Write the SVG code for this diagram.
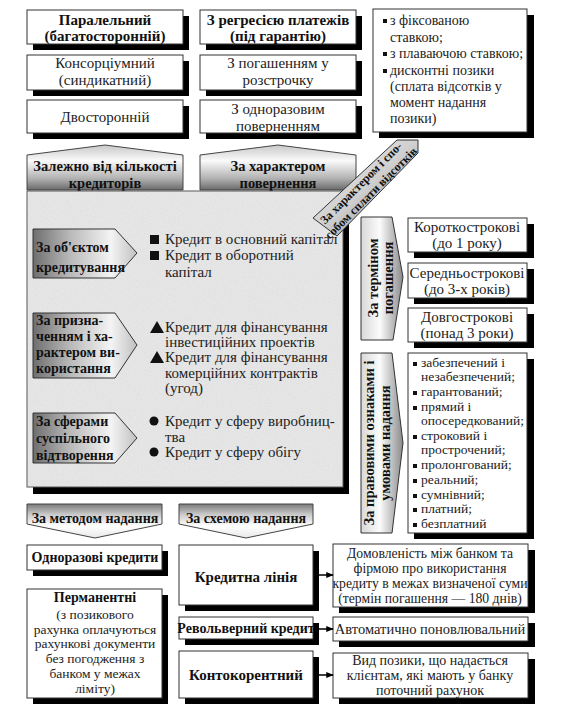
<svg xmlns="http://www.w3.org/2000/svg" width="576" height="712" viewBox="0 0 576 712">
<defs>
<style>
text{font-family:'Liberation Serif','DejaVu Serif',serif;font-size:14.5px;fill:#222}
.b{font-weight:bold;fill:#111}
.c{text-anchor:middle}
.s13{font-size:13.5px}
.s14{font-size:14px}
.s15{font-size:15px}
.box{fill:#fff;stroke:#333;stroke-width:1}
.sh{fill:#000}
.con{stroke:#000;stroke-width:1.5;fill:none;marker-end:url(#ah)}
</style>
<linearGradient id="gUp" x1="0" y1="0" x2="0" y2="1">
<stop offset="0" stop-color="#c8c8c8"/><stop offset="0.35" stop-color="#fafafa"/><stop offset="0.75" stop-color="#b0b0b0"/><stop offset="1" stop-color="#6a6a6a"/>
</linearGradient>
<linearGradient id="gDown" x1="0" y1="0" x2="0" y2="1">
<stop offset="0" stop-color="#7a7a7a"/><stop offset="0.3" stop-color="#c8c8c8"/><stop offset="0.65" stop-color="#ffffff"/><stop offset="1" stop-color="#e8e8e8"/>
</linearGradient>
<linearGradient id="gRight" x1="0" y1="0" x2="1" y2="0">
<stop offset="0" stop-color="#6e6e6e"/><stop offset="0.35" stop-color="#b8b8b8"/><stop offset="0.75" stop-color="#f4f4f4"/><stop offset="1" stop-color="#c0c0c0"/>
</linearGradient>
<linearGradient id="gVert" x1="0" y1="0" x2="1" y2="0">
<stop offset="0" stop-color="#d8d8d8"/><stop offset="0.45" stop-color="#fbfbfb"/><stop offset="1" stop-color="#8a8a8a"/>
</linearGradient>
<linearGradient id="gBand" x1="0" y1="0" x2="1" y2="1">
<stop offset="0" stop-color="#f0f0f0"/><stop offset="0.5" stop-color="#d0d0d0"/><stop offset="1" stop-color="#707070"/>
</linearGradient>
<filter id="noise" x="0" y="0" width="100%" height="100%">
<feTurbulence type="fractalNoise" baseFrequency="0.85" numOctaves="2" seed="3" result="t"/>
<feColorMatrix in="t" type="matrix" values="0 0 0 0 0.55  0 0 0 0 0.55  0 0 0 0 0.55  1.2 0 0 0 -0.5" result="m"/>
<feComposite in="m" in2="SourceGraphic" operator="in"/>
</filter>
<marker id="ah" viewBox="0 0 10 10" refX="9" refY="5" markerWidth="5" markerHeight="5" orient="auto">
<path d="M0,1 L10,5 L0,9 Z" fill="#000"/>
</marker>
</defs>
<rect width="576" height="712" fill="#fff"/>

<!-- top left column -->
<g id="n_paralel"><rect class="sh" x="33" y="16" width="156" height="34"/><rect class="box" x="27" y="10" width="156" height="34"/>
<text class="b c s15" x="105" y="25">Паралельний</text><text class="b c s15" x="105" y="41">(багатосторонній)</text></g>
<g id="n_konsorc"><rect class="sh" x="33" y="61" width="156" height="35"/><rect class="box" x="27" y="55" width="156" height="35"/>
<text class="c s15" x="105" y="68">Консорціумний</text><text class="c s15" x="105" y="85">(синдикатний)</text></g>
<g id="n_dvostor"><rect class="sh" x="33" y="106" width="156" height="33"/><rect class="box" x="27" y="100" width="156" height="33"/>
<text class="c s15" x="105" y="122">Двосторонній</text></g>

<!-- top middle column -->
<g id="n_regres"><rect class="sh" x="206" y="16" width="156" height="34"/><rect class="box" x="200" y="10" width="156" height="34"/>
<text class="b c s15" x="278" y="25">З регресією платежів</text><text class="b c s15" x="278" y="41">(під гарантію)</text></g>
<g id="n_rozstr"><rect class="sh" x="206" y="61" width="156" height="35"/><rect class="box" x="200" y="55" width="156" height="35"/>
<text class="c s15" x="278" y="68">З погашенням у</text><text class="c s15" x="278" y="85">розстрочку</text></g>
<g id="n_odnoraz"><rect class="sh" x="206" y="106" width="156" height="33"/><rect class="box" x="200" y="100" width="156" height="33"/>
<text class="c s15" x="278" y="114">З одноразовим</text><text class="c s15" x="278" y="131">поверненням</text></g>

<!-- top right box -->
<g id="n_stavka"><rect class="sh" x="379" y="15" width="155" height="123"/><rect class="box" x="373" y="9" width="154" height="123"/>
<rect x="383" y="19" width="4" height="4" fill="#111"/><text class="s14" x="390" y="25">з фіксованою</text>
<text class="s14" x="390" y="42">ставкою;</text>
<rect x="383" y="52" width="4" height="4" fill="#111"/><text class="s14" x="390" y="58">з плаваючою ставкою;</text>
<rect x="383" y="69" width="4" height="4" fill="#111"/><text class="s14" x="390" y="75">дисконтні позики</text>
<text class="s14" x="390" y="91">(сплата відсотків у</text>
<text class="s14" x="390" y="107">момент надання</text>
<text class="s14" x="390" y="123">позики)</text></g>

<!-- up arrows -->
<g id="n_kilkist"><path d="M27,190 L27,155 L105,145 L183,155 L183,190 Z" fill="url(#gUp)" stroke="#444"/>
<text class="b c" x="105" y="171">Залежно від кількості</text><text class="b c" x="105" y="188">кредиторів</text></g>
<g id="n_povern"><path d="M200,190 L200,155 L278,145 L356,155 L356,190 Z" fill="url(#gUp)" stroke="#444"/>
<text class="b c" x="278" y="171">За характером</text><text class="b c" x="278" y="188">повернення</text></g>

<!-- big panel -->
<g id="n_panel">
<rect class="sh" x="33" y="197" width="316" height="297"/>
<rect x="27" y="191" width="316" height="296" fill="#e6e6e6" stroke="#555"/>
<rect x="27" y="191" width="316" height="296" fill="#e6e6e6" filter="url(#noise)" opacity="0.4"/>
</g>

<!-- diagonal band -->
<g id="n_vidsotky"><path d="M313,218 L397,140 L418,140 L418,153 L337,236 Z" fill="url(#gBand)" stroke="#333"/>
<g transform="translate(366,188) rotate(-45)"><text class="b c" x="0" y="-3" style="font-size:12px">За характером і спо-</text><text class="b c" x="0" y="11" style="font-size:12px">собом сплати відсотків</text></g></g>

<!-- left pentagons inside panel -->
<g id="n_obekt"><path d="M33,229 L115,229 L137,253 L115,278 L33,278 Z" fill="url(#gRight)" stroke="#333"/>
<text class="b s14" x="36" y="252">За об'єктом</text><text class="b s14" x="36" y="272">кредитування</text></g>
<g id="n_pryzn"><path d="M33,313 L115,313 L137,345 L115,378 L33,378 Z" fill="url(#gRight)" stroke="#333"/>
<text class="b s14" x="36" y="325">За призна-</text><text class="b s14" x="36" y="341">ченням і ха-</text><text class="b s14" x="36" y="357">рактером ви-</text><text class="b s14" x="36" y="373">користання</text></g>
<g id="n_sfery"><path d="M33,413 L115,413 L137,438 L115,463 L33,463 Z" fill="url(#gRight)" stroke="#333"/>
<text class="b s14" x="36" y="426">За сферами</text><text class="b s14" x="36" y="443">суспільного</text><text class="b s14" x="36" y="460">відтворення</text></g>

<!-- panel bullets -->
<g id="n_obekt_items">
<rect x="150" y="235" width="9" height="9" fill="#111"/><text class="s15" x="165" y="244">Кредит в основний капітал</text>
<rect x="150" y="251" width="9" height="9" fill="#111"/><text class="s15" x="165" y="260">Кредит в оборотний</text>
<text class="s15" x="165" y="277">капітал</text></g>
<g id="n_pryzn_items">
<path d="M150,333 L157,321 L164,333 Z" fill="#111"/><text class="s15" x="165" y="332">Кредит для фінансування</text>
<text class="s15" x="165" y="347">інвестиційних проектів</text>
<path d="M150,363 L157,351 L164,363 Z" fill="#111"/><text class="s15" x="165" y="362">Кредит для фінансування</text>
<text class="s15" x="165" y="378">комерційних контрактів</text>
<text class="s15" x="165" y="393">(угод)</text></g>
<g id="n_sfery_items">
<circle cx="154" cy="421" r="4.5" fill="#111"/><text class="s15" x="165" y="426">Кредит у сферу виробниц-</text>
<text class="s15" x="165" y="442">тва</text>
<circle cx="154" cy="452" r="4.5" fill="#111"/><text class="s15" x="165" y="457">Кредит у сферу обігу</text></g>

<!-- vertical pentagons -->
<g id="n_termin"><path d="M361,217 L392,217 L403,277 L393,340 L361,340 Z" fill="url(#gVert)" stroke="#333"/>
<g transform="translate(378,278) rotate(-90)"><text class="b c" x="0" y="0">За терміном</text><text class="b c" x="0" y="15">погашення</text></g></g>
<g id="n_pravo"><path d="M361,353 L392,353 L403,443 L392,533 L361,533 Z" fill="url(#gVert)" stroke="#333"/>
<g transform="translate(374,443) rotate(-90)"><text class="b c" x="0" y="0">За правовими ознаками і</text><text class="b c" x="0" y="16">умовами надання</text></g></g>

<!-- right term boxes -->
<g id="n_korotko"><rect class="sh" x="414" y="224" width="120" height="34"/><rect class="box" x="408" y="218" width="119" height="34"/>
<text class="c s15" x="467" y="232">Короткострокові</text><text class="c s15" x="467" y="248">(до 1 року)</text></g>
<g id="n_seredn"><rect class="sh" x="414" y="269" width="120" height="35"/><rect class="box" x="408" y="263" width="119" height="35"/>
<text class="c s15" x="467" y="278">Середньострокові</text><text class="c s15" x="467" y="294">(до 3-х років)</text></g>
<g id="n_dovgo"><rect class="sh" x="414" y="314" width="120" height="34"/><rect class="box" x="408" y="308" width="119" height="34"/>
<text class="c s15" x="467" y="322">Довгострокові</text><text class="c s15" x="467" y="338">(понад 3 роки)</text></g>

<!-- legal list -->
<g id="n_pravo_items"><rect class="sh" x="414" y="359" width="120" height="180"/><rect class="box" x="408" y="353" width="119" height="180"/>
<rect x="413" y="362" width="4" height="4" fill="#111"/><text class="s13" x="421" y="367">забезпечений і</text>
<text class="s13" x="421" y="381">незабезпечений;</text>
<rect x="413" y="391" width="4" height="4" fill="#111"/><text class="s13" x="421" y="396">гарантований;</text>
<rect x="413" y="406" width="4" height="4" fill="#111"/><text class="s13" x="421" y="411">прямий і</text>
<text class="s13" x="421" y="425">опосередкований;</text>
<rect x="413" y="435" width="4" height="4" fill="#111"/><text class="s13" x="421" y="440">строковий і</text>
<text class="s13" x="421" y="454">прострочений;</text>
<rect x="413" y="464" width="4" height="4" fill="#111"/><text class="s13" x="421" y="469">пролонгований;</text>
<rect x="413" y="479" width="4" height="4" fill="#111"/><text class="s13" x="421" y="484">реальний;</text>
<rect x="413" y="494" width="4" height="4" fill="#111"/><text class="s13" x="421" y="499">сумнівний;</text>
<rect x="413" y="508" width="4" height="4" fill="#111"/><text class="s13" x="421" y="513">платний;</text>
<rect x="413" y="523" width="4" height="4" fill="#111"/><text class="s13" x="421" y="528">безплатний</text>
</g>

<!-- down arrows -->
<g id="n_metod"><path d="M27,504 L162,504 L162,524 L95,538 L27,524 Z" fill="url(#gDown)" stroke="#444"/>
<text class="b c s14" x="95" y="523">За методом надання</text></g>
<g id="n_skhema"><path d="M179,504 L313,504 L313,524 L246,538 L179,524 Z" fill="url(#gDown)" stroke="#444"/>
<text class="b c s14" x="246" y="523">За схемою надання</text></g>

<!-- bottom left -->
<g id="n_odnorazovi"><rect class="sh" x="33" y="551" width="135" height="25"/><rect class="box" x="27" y="545" width="135" height="25"/>
<text class="b c s14" x="95" y="562">Одноразові кредити</text></g>
<g id="n_perman"><rect class="sh" x="33" y="595" width="135" height="109"/><rect class="box" x="27" y="589" width="135" height="109"/>
<text class="b c s14" x="95" y="602">Перманентні</text>
<text class="c s13" x="95" y="619">(з позикового</text>
<text class="c s13" x="95" y="634">рахунка оплачуються</text>
<text class="c s13" x="95" y="648">рахункові документи</text>
<text class="c s13" x="95" y="663">без погодження з</text>
<text class="c s13" x="95" y="678">банком у межах</text>
<text class="c s13" x="95" y="693">ліміту)</text></g>

<!-- bottom middle -->
<g id="n_liniya"><rect class="sh" x="185" y="551" width="134" height="60"/><rect class="box" x="179" y="545" width="134" height="60"/>
<text class="b c s15" x="246" y="582">Кредитна лінія</text></g>
<g id="n_revolv"><rect class="sh" x="185" y="623" width="134" height="22"/><rect class="box" x="179" y="617" width="134" height="22"/>
<text class="b c s14" x="246" y="633">Револьверний кредит</text></g>
<g id="n_konto"><rect class="sh" x="185" y="657" width="134" height="47"/><rect class="box" x="179" y="651" width="134" height="47"/>
<text class="b c s15" x="246" y="680">Контокорентний</text></g>

<!-- bottom right -->
<g id="n_domovl"><rect class="sh" x="339" y="550" width="196" height="63"/><rect class="box" x="333" y="544" width="195" height="63"/>
<text class="c" x="430" y="558" style="font-size:13.7px">Домовленість між банком та</text>
<text class="c" x="430" y="573" style="font-size:13.7px">фірмою про використання</text>
<text class="c" x="430" y="588" style="font-size:13.7px">кредиту в межах визначеної суми</text>
<text class="c" x="430" y="603" style="font-size:13.7px">(термін погашення — 180 днів)</text></g>
<g id="n_avtomat"><rect class="sh" x="339" y="623" width="196" height="24"/><rect class="box" x="333" y="617" width="195" height="24"/>
<text class="c" x="430" y="634">Автоматично поновлювальний</text></g>
<g id="n_vyd"><rect class="sh" x="339" y="659" width="196" height="45"/><rect class="box" x="333" y="653" width="195" height="45"/>
<text class="c s14" x="430" y="665">Вид позики, що надається</text>
<text class="c s14" x="430" y="680">клієнтам, які мають у банку</text>
<text class="c s14" x="430" y="695">поточний рахунок</text></g>

<!-- connectors -->
<g id="connectors">
<line class="con" x1="319" y1="575" x2="333" y2="575"/>
<line class="con" x1="313" y1="629" x2="333" y2="629"/>
<line class="con" x1="319" y1="675" x2="333" y2="675"/>
</g>
</svg>
